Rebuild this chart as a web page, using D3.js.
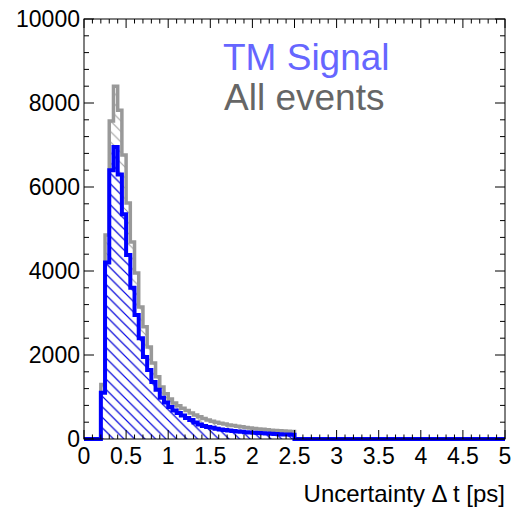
<!DOCTYPE html>
<html>
<head>
<meta charset="utf-8">
<script src="https://cdn.jsdelivr.net/npm/d3@7"></script>
<style>
  html, body { margin: 0; padding: 0; background: #fff; }
  svg { display: block; font-family: "Liberation Sans", Arial, sans-serif; }
</style>
</head>
<body>
<svg id="chart" width="512" height="511"></svg>
<script>
// Histogram binning: 100 bins of 0.05 ps from 0 to 5 ps
const binLow = 0;
const binWidth = 0.05;

// Truth-matched signal entries per bin
const signalCounts = [
  0, 0, 0, 0, 1100, 4200, 6400, 6950, 6300, 5350,
  4380, 3600, 2950, 2400, 1950, 1640, 1360, 1170, 980, 870,
  760, 680, 620, 560, 500, 450, 390, 345, 310, 285,
  265, 245, 228, 212, 200, 190, 178, 170, 160, 152,
  146, 140, 134, 128, 124, 120, 114, 110, 106, 100,
  0, 0, 0, 0, 0, 0, 0, 0, 0, 0,
  0, 0, 0, 0, 0, 0, 0, 0, 0, 0,
  0, 0, 0, 0, 0, 0, 0, 0, 0, 0,
  0, 0, 0, 0, 0, 0, 0, 0, 0, 0,
  0, 0, 0, 0, 0, 0, 0, 0, 0, 0
];

// All-event entries per bin
const allCounts = [
  0, 0, 0, 0, 1300, 4860, 7570, 8400, 7830, 6760,
  5620, 4690, 3950, 3140, 2670, 2190, 1810, 1480, 1240, 1080,
  950, 860, 790, 730, 680, 620, 570, 530, 490, 455,
  425, 400, 375, 355, 335, 320, 305, 290, 275, 262,
  250, 240, 230, 220, 210, 200, 195, 190, 185, 180,
  0, 0, 0, 0, 0, 0, 0, 0, 0, 0,
  0, 0, 0, 0, 0, 0, 0, 0, 0, 0,
  0, 0, 0, 0, 0, 0, 0, 0, 0, 0,
  0, 0, 0, 0, 0, 0, 0, 0, 0, 0,
  0, 0, 0, 0, 0, 0, 0, 0, 0, 0
];

const xTicks = [0, 0.5, 1, 1.5, 2, 2.5, 3, 3.5, 4, 4.5, 5];
const xTickLabels = ["0", "0.5", "1", "1.5", "2", "2.5", "3", "3.5", "4", "4.5", "5"];
const yTicks = [0, 2000, 4000, 6000, 8000, 10000];
const yTickLabels = ["0", "2000", "4000", "6000", "8000", "10000"];

const legendLabels = ["TM Signal", "All events"];
const xTitle = "Uncertainty \u0394 t [ps]";

const frame = { left: 84, right: 505, top: 19, bottom: 439 };

const svg = d3.select("#chart");
const x = d3.scaleLinear().domain([0, 5]).range([frame.left, frame.right]);
const y = d3.scaleLinear().domain([0, 10000]).range([frame.bottom, frame.top]);

// Diagonal hatch patterns
const defs = svg.append("defs");
function hatch(id, color) {
  const p = defs.append("pattern")
    .attr("id", id)
    .attr("patternUnits", "userSpaceOnUse")
    .attr("width", 10.5).attr("height", 10.5);
  p.append("path")
    .attr("d", "M0,0 L10.5,10.5 M-1,9.5 L1,11.5 M9.5,-1 L11.5,1")
    .attr("stroke", color).attr("stroke-width", 1).attr("fill", "none");
}
hatch("hatchGray", "#9a9a9a");
hatch("hatchBlue", "#0000ff");

function toPoints(counts) {
  const pts = counts.map((v, i) => [binLow + i * binWidth, v]);
  pts.push([binLow + counts.length * binWidth, counts[counts.length - 1]]);
  return pts;
}

const line = d3.line().x(d => x(d[0])).y(d => y(d[1])).curve(d3.curveStepAfter);
const area = d3.area().x(d => x(d[0])).y0(y(0)).y1(d => y(d[1])).curve(d3.curveStepAfter);

const plot = svg.append("g");

// All events
plot.append("path").datum(toPoints(allCounts))
  .attr("d", area).attr("fill", "url(#hatchGray)");
plot.append("path").datum(toPoints(allCounts))
  .attr("d", line).attr("fill", "none")
  .attr("stroke", "#999999").attr("stroke-width", 3.5);

// Truth-matched signal
plot.append("path").datum(toPoints(signalCounts))
  .attr("d", area).attr("fill", "url(#hatchBlue)");
plot.append("path").datum(toPoints(signalCounts))
  .attr("d", line).attr("fill", "none")
  .attr("stroke", "#0000ff").attr("stroke-width", 4);

// Frame
const axes = svg.append("g");
axes.append("rect")
  .attr("x", frame.left).attr("y", frame.top)
  .attr("width", frame.right - frame.left).attr("height", frame.bottom - frame.top)
  .attr("fill", "none").attr("stroke", "#000").attr("stroke-width", 1);

// Tick marks on all four sides
const xMinor = d3.range(0, 51).map(i => i / 10);
const yMinor = d3.range(0, 26).map(i => i * 400);
xMinor.forEach(v => {
  const major = xTicks.some(t => Math.abs(t - v) < 1e-9);
  const len = major ? 9 : 4.5;
  axes.append("line").attr("x1", x(v)).attr("x2", x(v))
    .attr("y1", frame.bottom).attr("y2", frame.bottom - len)
    .attr("stroke", "#000");
  axes.append("line").attr("x1", x(v)).attr("x2", x(v))
    .attr("y1", frame.top).attr("y2", frame.top + len)
    .attr("stroke", "#000");
});
yMinor.forEach(v => {
  const major = yTicks.includes(v);
  const len = major ? 10 : 5;
  axes.append("line").attr("y1", y(v)).attr("y2", y(v))
    .attr("x1", frame.left).attr("x2", frame.left + len)
    .attr("stroke", "#000");
  axes.append("line").attr("y1", y(v)).attr("y2", y(v))
    .attr("x1", frame.right).attr("x2", frame.right - len)
    .attr("stroke", "#000");
});

// Tick labels
axes.selectAll("text.xl").data(xTicks).enter().append("text")
  .attr("class", "xl")
  .attr("x", d => x(d)).attr("y", frame.bottom + 25)
  .attr("text-anchor", "middle")
  .attr("font-size", 23)
  .text((d, i) => xTickLabels[i]);

axes.selectAll("text.yl").data(yTicks).enter().append("text")
  .attr("class", "yl")
  .attr("x", frame.left - 4).attr("y", d => y(d) + 8)
  .attr("text-anchor", "end")
  .attr("font-size", 23)
  .text((d, i) => yTickLabels[i]);

// Axis title
svg.append("text")
  .attr("x", frame.right).attr("y", 502)
  .attr("text-anchor", "end")
  .attr("font-size", 24)
  .text(xTitle);

// Legend
svg.append("text").attr("x", 223).attr("y", 70)
  .attr("font-size", 37).attr("fill", "#6666ff").text(legendLabels[0]);
svg.append("text").attr("x", 224).attr("y", 110)
  .attr("font-size", 37).attr("fill", "#666666").text(legendLabels[1]);
</script>
</body>
</html>
